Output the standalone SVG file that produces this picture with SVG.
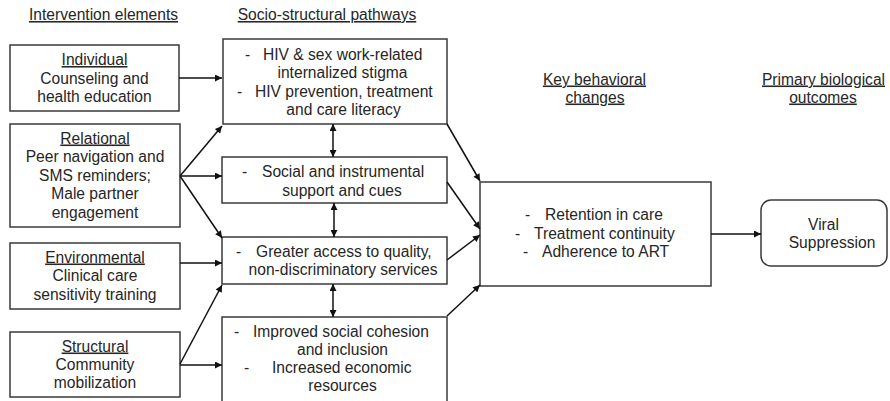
<svg xmlns="http://www.w3.org/2000/svg" width="890" height="401" viewBox="0 0 890 401">
  <style>
    text { font-family: "Liberation Sans", Arial, sans-serif; font-size: 15.6px; fill: #262626; }
    .c { text-anchor: middle; }
    .u { text-decoration: underline; }
    .box { fill: #ffffff; stroke: #3a3a3a; stroke-width: 1.5; }
    .link { stroke: #111111; stroke-width: 1.5; fill: none; }
  </style>
  <defs>
    <marker id="arrow" viewBox="0 0 10 10" refX="10" refY="5" markerWidth="8" markerHeight="7" markerUnits="userSpaceOnUse" orient="auto-start-reverse">
      <path d="M0,0 L10,5 L0,10 z" fill="#111111"/>
    </marker>
  </defs>

  <rect width="890" height="401" fill="#ffffff"/>

  <!-- column headings -->
  <g id="headings">
    <text class="c u" x="103.5" y="20">Intervention elements</text>
    <text class="c u" x="327" y="20">Socio-structural pathways</text>
    <text class="c u" x="594.5" y="84.5">Key behavioral</text>
    <text class="c u" x="595" y="102.5">changes</text>
    <text class="c u" x="823.5" y="84.5">Primary biological</text>
    <text class="c u" x="823" y="102.5">outcomes</text>
  </g>

  <!-- intervention elements -->
  <g id="individual">
    <rect class="box" x="10" y="45" width="169" height="66"/>
    <text class="c u" x="94.5" y="65">Individual</text>
    <text class="c" x="94.5" y="84">Counseling and</text>
    <text class="c" x="94.5" y="102">health education</text>
  </g>
  <g id="relational">
    <rect class="box" x="10" y="124" width="170" height="103"/>
    <text class="c u" x="95" y="143.5">Relational</text>
    <text class="c" x="95" y="162">Peer navigation and</text>
    <text class="c" x="95" y="180.5">SMS reminders;</text>
    <text class="c" x="95" y="199">Male partner</text>
    <text class="c" x="95" y="217.5">engagement</text>
  </g>
  <g id="environmental">
    <rect class="box" x="10" y="243" width="170" height="66"/>
    <text class="c u" x="95" y="262.5">Environmental</text>
    <text class="c" x="95" y="281">Clinical care</text>
    <text class="c" x="95" y="299.5">sensitivity training</text>
  </g>
  <g id="structural">
    <rect class="box" x="10" y="332" width="170" height="65"/>
    <text class="c u" x="95" y="351.5">Structural</text>
    <text class="c" x="95" y="370">Community</text>
    <text class="c" x="95" y="388">mobilization</text>
  </g>

  <!-- socio-structural pathways -->
  <g id="stigma-literacy">
    <rect class="box" x="223" y="39" width="224" height="85"/>
    <text x="245" y="59.5">-</text>
    <text x="263" y="59.5">HIV &amp; sex work-related</text>
    <text class="c" x="342.5" y="78">internalized stigma</text>
    <text x="237" y="96.5">-</text>
    <text x="255" y="96.5">HIV prevention, treatment</text>
    <text class="c" x="343.5" y="115">and care literacy</text>
  </g>
  <g id="social-support">
    <rect class="box" x="222" y="157" width="225" height="46"/>
    <text x="242" y="177">-</text>
    <text x="262" y="177">Social and instrumental</text>
    <text class="c" x="342" y="196">support and cues</text>
  </g>
  <g id="service-access">
    <rect class="box" x="222" y="237" width="225" height="47"/>
    <text x="236" y="257">-</text>
    <text x="256" y="257">Greater access to quality,</text>
    <text class="c" x="343" y="275">non-discriminatory services</text>
  </g>
  <g id="cohesion-resources">
    <rect class="box" x="222" y="317" width="225" height="95"/>
    <text x="234" y="337">-</text>
    <text x="253" y="337">Improved social cohesion</text>
    <text class="c" x="342.5" y="355">and inclusion</text>
    <text x="244" y="373">-</text>
    <text x="272" y="373">Increased economic</text>
    <text class="c" x="342.5" y="391">resources</text>
  </g>

  <!-- behavioral changes -->
  <g id="behavioral-changes">
    <rect class="box" x="480" y="182" width="231" height="104"/>
    <text x="525" y="220">-</text>
    <text x="545" y="220">Retention in care</text>
    <text x="515" y="238.5">-</text>
    <text x="534" y="238.5">Treatment continuity</text>
    <text x="523" y="257">-</text>
    <text x="542" y="257">Adherence to ART</text>
  </g>

  <!-- biological outcome -->
  <g id="viral-suppression">
    <rect class="box" x="761" y="200" width="126" height="66" rx="10" ry="10"/>
    <text class="c" x="823.5" y="230">Viral</text>
    <text class="c" x="832" y="248">Suppression</text>
  </g>

  <!-- connectors -->
  <g id="connectors">
    <line class="link" x1="179" y1="78" x2="222" y2="78" marker-end="url(#arrow)"/>
    <line class="link" x1="180" y1="176" x2="222" y2="126" marker-end="url(#arrow)"/>
    <line class="link" x1="180" y1="176" x2="222" y2="176" marker-end="url(#arrow)"/>
    <line class="link" x1="180" y1="176" x2="222" y2="238" marker-end="url(#arrow)"/>
    <line class="link" x1="180" y1="263" x2="222" y2="263" marker-end="url(#arrow)"/>
    <line class="link" x1="180" y1="364" x2="222" y2="285" marker-end="url(#arrow)"/>
    <line class="link" x1="180" y1="365" x2="222" y2="365" marker-end="url(#arrow)"/>

    <line class="link" x1="333" y1="124" x2="333" y2="157" marker-start="url(#arrow)" marker-end="url(#arrow)"/>
    <line class="link" x1="334" y1="203" x2="334" y2="237" marker-start="url(#arrow)" marker-end="url(#arrow)"/>
    <line class="link" x1="333" y1="284" x2="333" y2="317" marker-start="url(#arrow)" marker-end="url(#arrow)"/>

    <line class="link" x1="447" y1="124" x2="480" y2="181" marker-end="url(#arrow)"/>
    <line class="link" x1="447" y1="182" x2="480" y2="229" marker-end="url(#arrow)"/>
    <line class="link" x1="447" y1="260" x2="480" y2="235" marker-end="url(#arrow)"/>
    <line class="link" x1="447" y1="316" x2="480" y2="285" marker-end="url(#arrow)"/>

    <line class="link" x1="711" y1="234" x2="761" y2="234" marker-end="url(#arrow)"/>
  </g>
</svg>
